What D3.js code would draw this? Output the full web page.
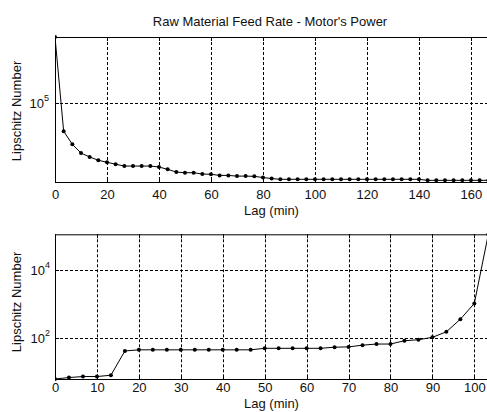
<!DOCTYPE html>
<html>
<head>
<meta charset="utf-8">
<script src="https://cdn.jsdelivr.net/npm/d3@7"></script>
<style>
  html, body { margin: 0; padding: 0; background: #fff; }
  svg { display: block; font-family: "Liberation Sans", Arial, Helvetica, sans-serif; }
</style>
</head>
<body>
<svg id="chart" width="487" height="412"></svg>
<script>
// ---------- data ----------
const chartTitle = "Raw Material Feed Rate - Motor's Power";
const xLabel = "Lag (min)";
const yLabel = "Lipschitz Number";

const lagsTop = [0, 3.33, 6.67, 10, 13.33, 16.67, 20, 23.33, 26.67, 30, 33.33, 36.67, 40, 43.33, 46.67, 50,
  53.33, 56.67, 60, 63.33, 66.67, 70, 73.33, 76.67, 80, 83.33, 86.67, 90, 93.33, 96.67, 100,
  103.33, 106.67, 110, 113.33, 116.67, 120, 123.33, 126.67, 130, 133.33, 136.67, 140,
  143.33, 146.67, 150, 153.33, 156.67, 160, 163.33, 166.67];
const lipTop = [453000, 51600, 38300, 31300, 28600, 26500, 25300, 24200, 23200, 23200, 23200, 23200, 22700, 21500, 20200, 19900,
  19900, 19300, 19200, 18700, 18700, 18400, 18400, 18300, 17800, 17400, 17100, 17100, 17100, 17100, 17100,
  17100, 17100, 17100, 17100, 17100, 17100, 17100, 17100, 17100, 17100, 17100, 17100,
  16700, 16700, 16700, 16700, 16700, 16700, 16700, 16700];
const xTicksTop = [0, 20, 40, 60, 80, 100, 120, 140, 160];
const yTicksTop = [5];            // exponents of 10
const xDomainTop = [0, 166.67];
const yDomainTop = [16070, 453000];

const lagsBot = [0, 3.33, 6.67, 10, 13.33, 16.67, 20, 23.33, 26.67, 30, 33.33, 36.67, 40, 43.33, 46.67, 50,
  53.33, 56.67, 60, 63.33, 66.67, 70, 73.33, 76.67, 80, 83.33, 86.67, 90, 93.33, 96.67, 100, 103.33];
const lipBot = [6.44, 7.1, 7.6, 7.6, 8.3, 42.7, 46, 46, 46, 46, 46, 46, 46, 46, 46, 51,
  51, 51, 51, 51, 55, 56, 63, 68, 68, 85, 91, 107, 155, 363, 1050, 111000];
const xTicksBot = [0, 10, 20, 30, 40, 50, 60, 70, 80, 90, 100];
const yTicksBot = [2, 4];
const xDomainBot = [0, 103.33];
const yDomainBot = [6.44, 111000];

// ---------- drawing ----------
const svg = d3.select("#chart");
const W = 487;

svg.append("text")
  .attr("x", 270).attr("y", 26)
  .attr("text-anchor", "middle")
  .attr("font-size", 13)
  .attr("fill", "#111")
  .text(chartTitle);

function panel(cfg) {
  const { left, right, top, bottom, lags, vals, xTicks, yTicks, xDom, yDom,
          xLabBase, xTitleBase, yTitleCenter, yLabEnd, id } = cfg;
  const x = d3.scaleLinear().domain(xDom).range([left, right]);
  const y = d3.scaleLog().domain(yDom).range([bottom, top]);
  const g = svg.append("g");

  g.append("clipPath").attr("id", id)
    .append("rect").attr("x", left).attr("y", top - 3)
    .attr("width", right - left + 3).attr("height", bottom - top + 6);

  // grid
  g.selectAll(".vg").data(xTicks.filter(d => d > xDom[0])).join("line")
    .attr("x1", d => Math.round(x(d)) + 0.5).attr("x2", d => Math.round(x(d)) + 0.5)
    .attr("y1", top).attr("y2", bottom)
    .attr("stroke", "#000").attr("stroke-width", 1).attr("stroke-dasharray", "3,2");
  g.selectAll(".hg").data(yTicks).join("line")
    .attr("x1", left).attr("x2", W)
    .attr("y1", d => Math.round(y(Math.pow(10, d))) + 0.5).attr("y2", d => Math.round(y(Math.pow(10, d))) + 0.5)
    .attr("stroke", "#000").attr("stroke-width", 1).attr("stroke-dasharray", "3,2");

  // tick marks (inward)
  g.selectAll(".bt").data(xTicks).join("line")
    .attr("x1", d => Math.round(x(d)) + 0.5).attr("x2", d => Math.round(x(d)) + 0.5)
    .attr("y1", bottom).attr("y2", bottom - 4)
    .attr("stroke", "#000");
  g.selectAll(".tt").data(xTicks).join("line")
    .attr("x1", d => Math.round(x(d)) + 0.5).attr("x2", d => Math.round(x(d)) + 0.5)
    .attr("y1", top).attr("y2", top + 4)
    .attr("stroke", "#000");
  g.selectAll(".lt").data(yTicks).join("line")
    .attr("x1", left).attr("x2", left + 4)
    .attr("y1", d => Math.round(y(Math.pow(10, d))) + 0.5).attr("y2", d => Math.round(y(Math.pow(10, d))) + 0.5)
    .attr("stroke", "#000");

  // box
  g.append("line").attr("x1", left + 0.5).attr("x2", left + 0.5).attr("y1", top).attr("y2", bottom + 0.5).attr("stroke", "#000");
  g.append("line").attr("x1", left).attr("x2", W).attr("y1", top + 0.5).attr("y2", top + 0.5).attr("stroke", "#000");
  g.append("line").attr("x1", left).attr("x2", W).attr("y1", bottom + 0.5).attr("y2", bottom + 0.5).attr("stroke", "#000");

  // x tick labels
  g.selectAll(".xl").data(xTicks).join("text")
    .attr("x", d => x(d) + 0.5).attr("y", xLabBase)
    .attr("text-anchor", "middle").attr("font-size", 13).attr("fill", "#111")
    .text(d => d);

  // y tick labels 10^n
  const yl = g.selectAll(".yl").data(yTicks).join("text")
    .attr("x", yLabEnd).attr("y", d => y(Math.pow(10, d)) + 5)
    .attr("text-anchor", "end").attr("font-size", 13).attr("fill", "#111");
  yl.append("tspan").text("10");
  yl.append("tspan").attr("dy", -7).attr("font-size", 9).text(d => d);

  // axis titles
  g.append("text").attr("x", (left + 488) / 2).attr("y", xTitleBase)
    .attr("text-anchor", "middle").attr("font-size", 13).attr("fill", "#111").text(xLabel);
  g.append("text")
    .attr("transform", `translate(21,${yTitleCenter}) rotate(-90)`)
    .attr("text-anchor", "middle").attr("font-size", 13).attr("fill", "#111").text(yLabel);

  // data
  const pts = lags.map((l, i) => [l, vals[i]]);
  const line = d3.line().x(d => x(d[0])).y(d => y(d[1]));
  const dg = g.append("g").attr("clip-path", `url(#${id})`);
  dg.append("path").datum(pts).attr("d", line)
    .attr("fill", "none").attr("stroke", "#000").attr("stroke-width", 1);
  dg.selectAll("circle").data(pts).join("circle")
    .attr("cx", d => x(d[0])).attr("cy", d => y(d[1])).attr("r", 2)
    .attr("fill", "#000");
}

panel({ id: "c1", left: 55, right: 488.3, top: 37, bottom: 182,
  lags: lagsTop, vals: lipTop, xTicks: xTicksTop, yTicks: yTicksTop,
  xDom: xDomainTop, yDom: yDomainTop, xLabBase: 199, xTitleBase: 215, yTitleCenter: 111, yLabEnd: 49 });

panel({ id: "c2", left: 55, right: 488.3, top: 234.3, bottom: 379,
  lags: lagsBot, vals: lipBot, xTicks: xTicksBot, yTicks: yTicksBot,
  xDom: xDomainBot, yDom: yDomainBot, xLabBase: 392, xTitleBase: 408, yTitleCenter: 302, yLabEnd: 50 });
</script>
</body>
</html>
